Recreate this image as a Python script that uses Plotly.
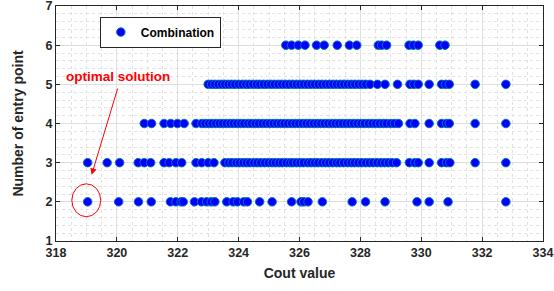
import plotly.graph_objects as go

# Cost values for each "number of entry point" level
row2_x = [319.04, 320.06, 320.71, 321.13, 321.76, 321.94, 322.11, 322.18, 322.55, 322.78,
          322.95, 323.10, 323.22, 323.61, 323.82, 323.96, 324.17, 324.29, 324.69, 325.10,
          325.74, 326.05, 326.14, 326.28, 326.75, 327.73, 328.17, 328.81, 329.86, 330.26,
          330.88, 332.78]
row3_x = [319.04, 319.68, 320.09, 320.70, 320.90, 321.11, 321.55, 321.72, 321.94, 322.13,
          322.60, 322.79, 323.00, 323.19,
          323.55, 323.68, 323.79, 323.92, 324.03, 324.15, 324.26, 324.37, 324.50, 324.61,
          324.73, 324.86, 324.98, 325.10, 325.21, 325.33, 325.44, 325.57, 325.69, 325.78,
          325.90, 326.02, 326.13, 326.27, 326.38, 326.50, 326.61, 326.74, 326.86, 326.97,
          327.09, 327.22, 327.33, 327.45, 327.58, 327.70, 327.81, 327.93, 328.05, 328.18,
          328.30, 328.42, 328.55, 328.68, 328.80, 328.92, 329.05, 329.19,
          329.61, 329.79, 329.90, 330.26, 330.67, 330.83, 330.94, 331.77, 332.78]
row4_x = [320.90, 321.14, 321.55, 321.77, 321.99, 322.21, 322.60,
          322.79, 322.90, 323.02, 323.13, 323.25, 323.37, 323.48, 323.60, 323.72, 323.83,
          323.95, 324.07, 324.18, 324.31, 324.42, 324.55, 324.66, 324.78, 324.90, 325.02,
          325.14, 325.26, 325.38, 325.50, 325.62, 325.74, 325.86, 325.98, 326.10, 326.22,
          326.34, 326.46, 326.58, 326.70, 326.82, 326.94, 327.06, 327.18, 327.30, 327.42,
          327.54, 327.66, 327.78, 327.90, 328.02, 328.14, 328.27, 328.39, 328.51, 328.63,
          328.75, 328.86, 329.00, 329.12, 329.25,
          329.63, 329.79, 330.26, 330.67, 330.83, 330.92, 331.77, 332.78]
row5_x = [323.00, 323.11, 323.22, 323.33, 323.44, 323.55, 323.66, 323.77, 323.88, 324.00,
          324.12, 324.24, 324.35, 324.47, 324.59, 324.70, 324.82, 324.94, 325.06, 325.18,
          325.30, 325.42, 325.54, 325.66, 325.78, 325.90, 326.02, 326.14, 326.26, 326.38,
          326.50, 326.62, 326.74, 326.86, 326.98, 327.10, 327.22, 327.34, 327.46, 327.58,
          327.70, 327.82, 327.94, 328.06, 328.18, 328.32,
          328.56, 328.81, 329.22, 329.63, 329.76, 329.90, 330.26, 330.67, 330.80, 330.92,
          331.77, 332.78]
row6_x = [325.55, 325.74, 325.96, 326.18, 326.56, 326.81, 327.24, 327.64, 327.88, 328.59,
          328.70, 328.86, 329.60, 329.74, 329.90, 330.61, 330.78]

entry_levels = [2, 3, 4, 5, 6]
rows = [row2_x, row3_x, row4_x, row5_x, row6_x]

x_ticks = [318, 320, 322, 324, 326, 328, 330, 332, 334]
y_ticks = [1, 2, 3, 4, 5, 6, 7]

xs, ys = [], []
for lvl, r in zip(entry_levels, rows):
    xs += r
    ys += [lvl] * len(r)

FONT = "Arial, Liberation Sans, sans-serif"

fig = go.Figure()
fig.add_trace(go.Scatter(
    x=xs, y=ys, mode="markers", name="<b>Combination</b>",
    marker=dict(size=8.5, color="#0000ff", line=dict(color="#0072BD", width=1)),
))

axis_common = dict(
    showline=True, linecolor="#262626", linewidth=1, mirror="ticks",
    ticks="inside", ticklen=4, tickcolor="#262626",
    showgrid=True, gridcolor="#dedede", gridwidth=1,
    zeroline=False, automargin=False, ticklabeloverflow="allow",
    tickfont=dict(family=FONT, size=12.5, color="#262626"),
)

fig.update_xaxes(
    range=[318, 334], tickvals=x_ticks, ticktext=[f"<b>{t}</b>" for t in x_ticks],
    minor=dict(dtick=0.5, showgrid=True, gridcolor="#e2e2e2", griddash="dot", ticks=""),
    title=dict(text="<b>Cout value</b>", font=dict(family=FONT, size=14, color="#262626"), standoff=9),
    **axis_common,
)
fig.update_yaxes(
    range=[1, 7], tickvals=y_ticks, ticktext=[f"<b>{t}</b>" for t in y_ticks],
    minor=dict(dtick=0.2, showgrid=True, gridcolor="#e2e2e2", griddash="dot", ticks=""),
    title=dict(text="<b>Number of entry point</b>", font=dict(family=FONT, size=14, color="#262626"), standoff=18),
    **axis_common,
)

# highlight ellipse
fig.add_shape(type="circle", xref="x", yref="y", x0=318.52, x1=319.47, y0=1.62, y1=2.46,
              line=dict(color="#ff0000", width=1))
# arrow
fig.add_annotation(x=319.17, y=2.69, ax=320.04, ay=4.93, xref="x", yref="y", axref="x", ayref="y",
                   text="", showarrow=True, arrowhead=2, arrowsize=1.3, arrowwidth=1, arrowcolor="#ff0000")
fig.add_annotation(x=320.05, y=5.19, xref="x", yref="y", text="<b>optimal solution</b>",
                   showarrow=False, font=dict(family=FONT, size=13.5, color="#ff0000"))

fig.update_layout(
    width=554, height=291,
    margin=dict(l=56, r=11, t=6, b=50),
    paper_bgcolor="white", plot_bgcolor="white",
    font=dict(family=FONT, color="#262626"),
    showlegend=True,
    legend=dict(x=0.09, y=0.955, xanchor="left", yanchor="top",
                bgcolor="white", bordercolor="#262626", borderwidth=1,
                font=dict(family=FONT, size=12, color="#000000")),
)

fig.write_html("out.html", config={"displayModeBar": False},
               post_script="document.body.style.margin='0';document.body.style.overflow='hidden';")
